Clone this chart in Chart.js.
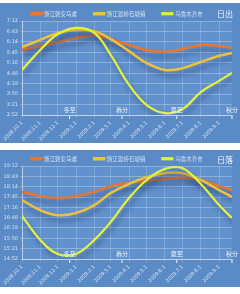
<!DOCTYPE html>
<html>
<head>
<meta charset="utf-8">
<script src="https://cdn.jsdelivr.net/npm/chart.js@4.4.1/dist/chart.umd.min.js"></script>
<style>
  body { margin: 0; background: #fff; width: 240px; height: 294px; overflow: hidden; }
  .panel { position: absolute; left: 0; width: 240px; background: #5b8bc6; }
  #p1 { top: 3px; height: 140px; }
  #p2 { top: 150px; height: 137px; }
</style>
</head>
<body>
<div class="panel" id="p1"><canvas id="sunrise" width="240" height="140"></canvas></div>
<div class="panel" id="p2"><canvas id="sunset" width="240" height="137"></canvas></div>
<script>
'use strict';

const seriesNames = ['浙江磐安马滩', '浙江温岭石塘镇', '乌鲁木齐市']
const lineColors = ['#e9762f', '#eec13a', '#e2f23c']

// days after 2008.10.1
const days = [0, 31, 61, 92, 123, 151, 182, 212, 243, 273, 304, 335, 357]
const monthTicks = [0, 31, 61, 92, 123, 151, 182, 212, 243, 273, 304, 335]
const monthLabels = ['2008.10.1', '2008.11.1', '2008.12.1', '2009.1.1', '2009.2.1', '2009.3.1',
    '2009.4.1', '2009.5.1', '2009.6.1', '2009.7.1', '2009.8.1', '2009.9.1']
const termDays = [81, 170, 263, 357]
const termLabels = ['冬至', '春分', '夏至', '秋分']

// minutes after midnight
const sunriseA = [352, 363, 374, 385, 393, 382, 366, 352, 347, 355, 366, 363, 358]
const sunriseB = [360, 380, 399, 407, 404, 382, 349, 316, 297, 302, 319, 336, 344]
const sunriseC = [297, 352, 396, 413, 399, 338, 256, 200, 178, 189, 236, 267, 289]

const sunsetA = [1080, 1068, 1063, 1068, 1080, 1096, 1105, 1110, 1116, 1119, 1113, 1096, 1085]
const sunsetB = [1057, 1029, 1015, 1021, 1043, 1077, 1102, 1121, 1132, 1132, 1113, 1085, 1066]
const sunsetC = [1013, 946, 907, 907, 946, 996, 1063, 1113, 1144, 1146, 1102, 1043, 1007]

const sunriseTicks = [172.8, 201.6, 230.4, 259.2, 288, 316.8, 345.6, 374.4, 403.2, 432]
const sunriseTickLabels = ['2:52', '3:21', '3:50', '4:19', '4:48', '5:16', '5:45', '6:14', '6:43', '7:12']
const sunsetTicks = [892.8, 921.6, 950.4, 979.2, 1008, 1036.8, 1065.6, 1094.4, 1123.2, 1152]
const sunsetTickLabels = ['14:52', '15:21', '15:50', '16:19', '16:48', '17:16', '17:45', '18:14', '18:43', '19:12']

const cjk = '"Noto Sans CJK SC", "Noto Sans", sans-serif'
const gridColor = 'rgba(255, 255, 255, 0.28)'
const textColor = 'rgba(235, 242, 250, 0.85)'

const decor = {
    id: 'decor',
    beforeLayout(chart, args, opts) {
        // legend row is shorter than chart.js would make it
        const lg = chart.legend
        if (!lg || lg._short) return
        lg._short = true
        const fit = lg.fit
        lg.fit = function () {
            fit.call(this)
            this.height = opts.legendHeight
        }
        lg.draw = function () {
            if (!this.options.display) return
            this.ctx.save()
            this.ctx.translate(0, -opts.legendShift)
            this._draw()
            this.ctx.restore()
        }
    },
    beforeDraw(chart) {
        const { ctx, chartArea: a } = chart
        ctx.save()
        ctx.fillStyle = '#6192cd'
        ctx.fillRect(a.left, a.top, a.right - a.left, a.bottom - a.top)
        ctx.restore()
    },
    beforeDatasetsDraw(chart) {
        const ctx = chart.ctx
        ctx.save()
        ctx.shadowColor = 'rgba(30, 50, 100, 0.55)'
        ctx.shadowBlur = 5
        ctx.shadowOffsetX = 2
        ctx.shadowOffsetY = 5
    },
    afterDatasetsDraw(chart, args, opts) {
        const { ctx, chartArea: a, scales: { x } } = chart
        ctx.restore()
        ctx.save()
        ctx.fillStyle = '#eef4fb'
        ctx.textAlign = 'center'
        ctx.textBaseline = 'middle'
        ctx.font = '6px ' + cjk
        termDays.forEach((d, i) => {
            const px = x.getPixelForValue(d)
            ctx.fillText(termLabels[i], px, a.bottom - 5)
            ctx.fillRect(px - 0.5, a.bottom + 1, 1, 3)
        })
        ctx.font = '8px ' + cjk
        ctx.textAlign = 'right'
        ctx.fillText(opts.title, chart.width - 7, opts.titleY)
        ctx.restore()
    }
}

function makeChart(id, title, titleY, values, yTicks, yLabels, padTop) {
    const ctx = document.getElementById(id).getContext('2d')
    return new Chart(ctx, {
        type: 'line',
        data: {
            datasets: values.map((v, i) => ({
                label: seriesNames[i],
                data: days.map((d, j) => ({ x: d, y: v[j] })),
                borderColor: lineColors[i],
                backgroundColor: lineColors[i],
                borderWidth: i === 2 ? 2.2 : 2.5,
                pointRadius: 0,
                tension: 0.4,
                order: 2 - i,
            }))
        },
        options: {
            responsive: false,
            animation: false,
            layout: { padding: { top: padTop, left: 2, right: 8, bottom: 0 } },
            plugins: {
                legend: {
                    labels: {
                        boxWidth: 10,
                        boxHeight: 1,
                        padding: 17,
                        color: textColor,
                        font: { size: 5.5, family: cjk },
                        sort: (a, b) => a.datasetIndex - b.datasetIndex,
                    }
                },
                tooltip: { enabled: false },
                decor: { title: title, titleY: titleY, legendHeight: 16, legendShift: 11 },
            },
            scales: {
                x: {
                    type: 'linear',
                    min: 0,
                    max: 357,
                    afterBuildTicks: (axis) => { axis.ticks = monthTicks.map((v) => ({ value: v })) },
                    afterFit: (axis) => { axis.height = 28 },
                    grid: { color: 'rgba(255, 255, 255, 0.18)', tickLength: 3 },
                    border: { color: 'rgba(255, 255, 255, 0.45)' },
                    ticks: {
                        autoSkip: false,
                        maxRotation: 45,
                        minRotation: 45,
                        padding: 2,
                        color: textColor,
                        font: { size: 5, family: 'DejaVu Sans' },
                        callback: (v, i) => monthLabels[i],
                    }
                },
                y: {
                    min: yTicks[0],
                    max: yTicks[yTicks.length - 1],
                    afterBuildTicks: (axis) => { axis.ticks = yTicks.map((v) => ({ value: v })) },
                    afterFit: (axis) => { axis.width = 20 },
                    grid: { color: gridColor, tickLength: 2 },
                    border: { color: 'rgba(255, 255, 255, 0.45)' },
                    ticks: {
                        autoSkip: false,
                        padding: 2,
                        color: textColor,
                        font: { size: 5, family: 'DejaVu Sans' },
                        callback: (v, i) => yLabels[i],
                    }
                }
            }
        },
        plugins: [decor]
    })
}

makeChart('sunrise', '日出', 11, [sunriseA, sunriseB, sunriseC], sunriseTicks, sunriseTickLabels, 2)
makeChart('sunset', '日落', 10, [sunsetA, sunsetB, sunsetC], sunsetTicks, sunsetTickLabels, 0)
</script>
</body>
</html>
